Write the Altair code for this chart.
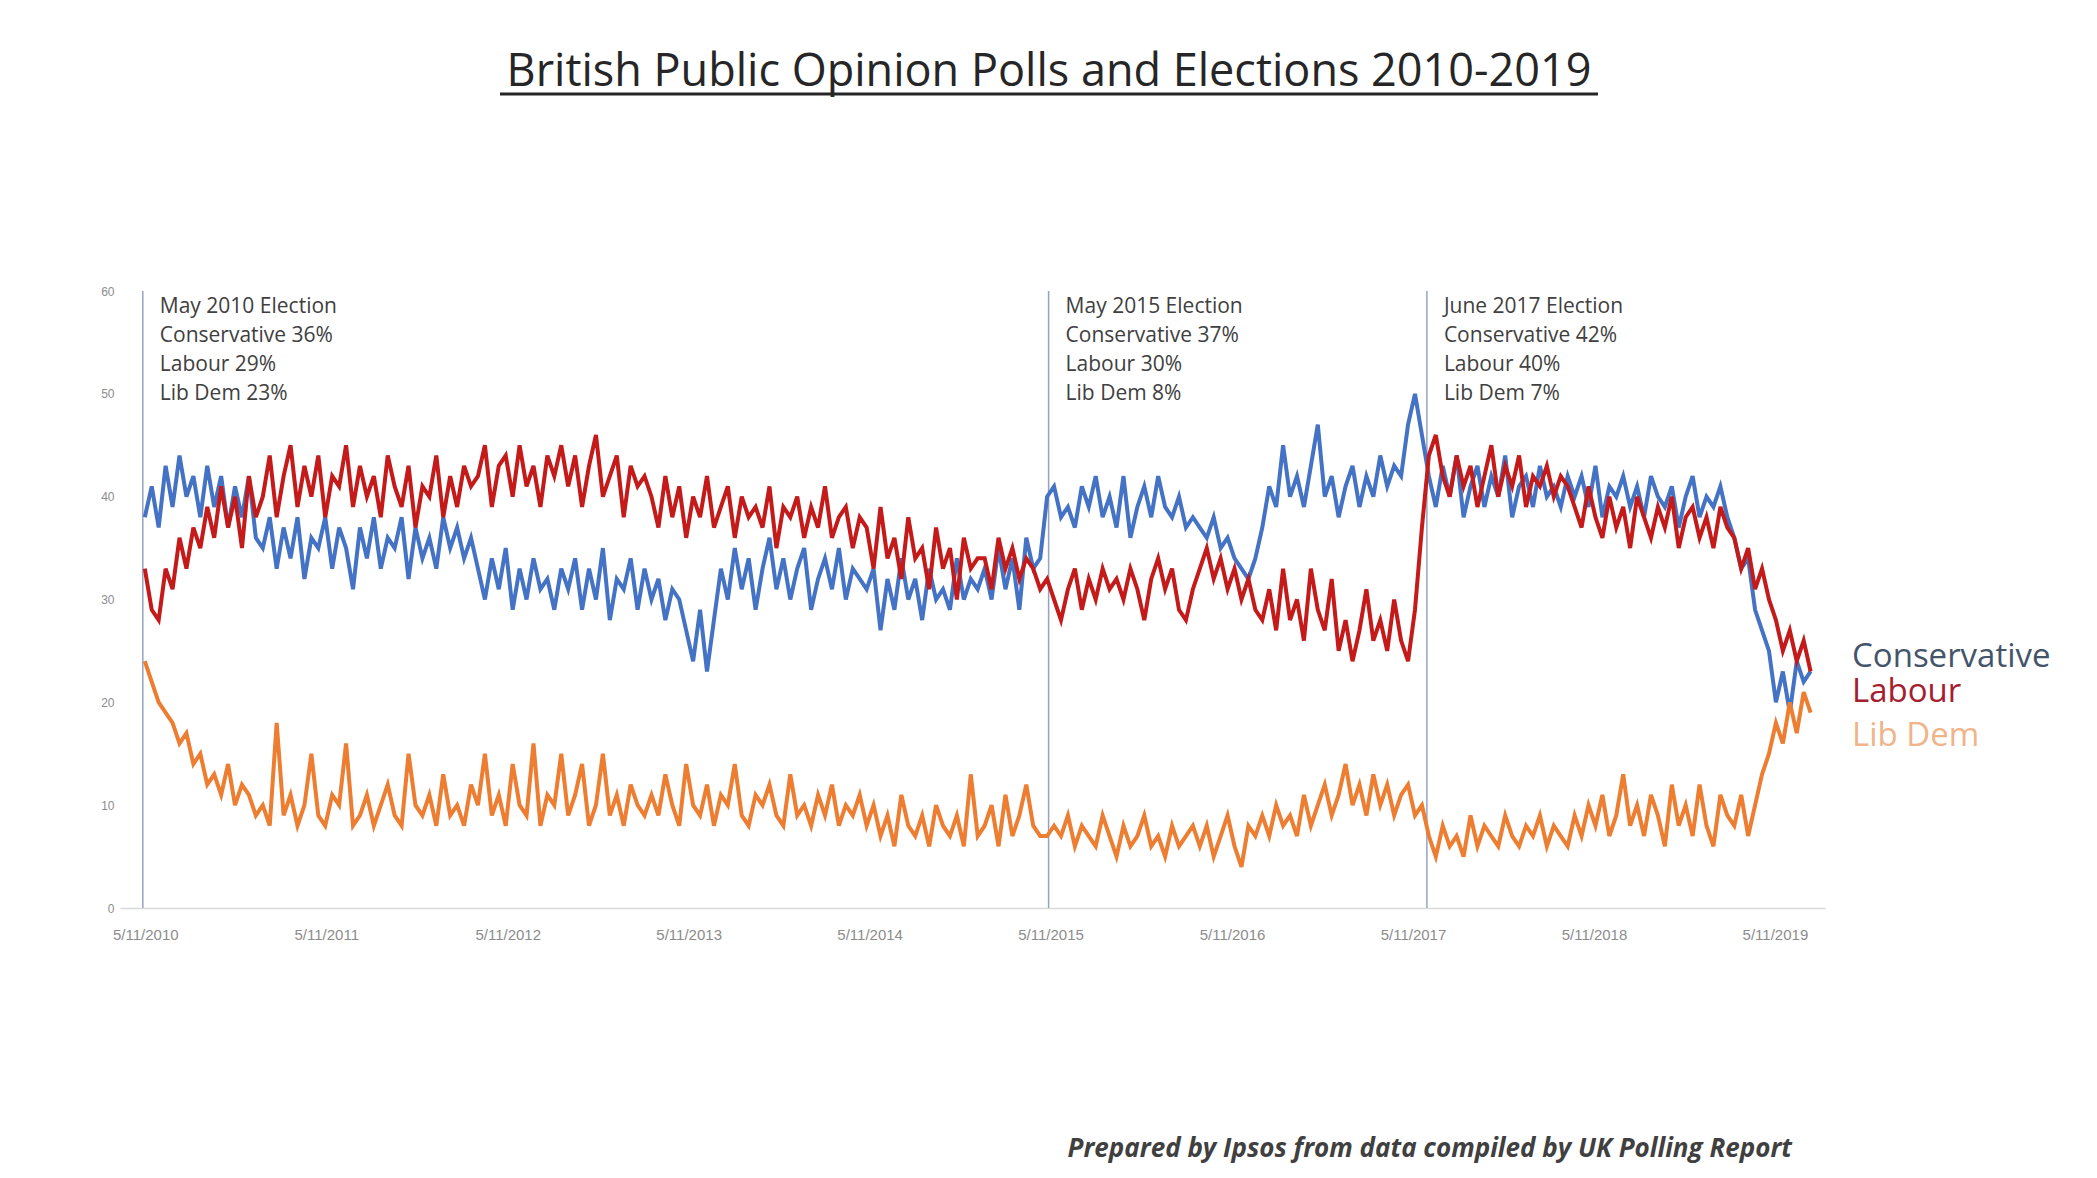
import altair as alt
import pandas as pd

PARTIES = ["Conservative", "Labour", "Lib Dem"]
LINE_COLOURS = ["#4472C4", "#C41A1A", "#ED7D31"]
LABEL_COLOURS = ["#44546A", "#A5202E", "#F0B48A"]

# one reading every 14 days, starting just after the 2010 election
FIRST_POLL = "2010-05-10"
POLL_STEP = "14D"

CONSERVATIVE = [
    38, 41, 37, 43, 39, 44, 40, 42, 38, 43, 39, 42, 37, 41, 38, 42, 36,
    35, 38, 33, 37, 34, 38, 32, 36, 35, 38, 33, 37, 35, 31, 37, 34, 38, 33, 36, 35, 38, 32, 37, 34, 36, 33, 38, 35, 37, 34, 36,
    33, 30, 34, 31, 35, 29, 33, 30, 34, 31, 32, 29, 33,
    31, 34, 29, 33, 30, 35, 28, 32, 31, 34, 29, 33, 30, 32, 28, 31, 30,
    27, 24, 29, 23, 28,
    33, 30, 35, 31, 34, 29, 33, 36, 31, 34, 30, 33, 35, 29, 32, 34, 31, 35, 30, 33, 32,
    31, 33, 27, 32, 29, 34, 30, 32, 28, 33, 30, 31, 29, 34, 30, 32, 31,
    33, 30, 35, 31, 34, 29, 36, 33, 34,
    40, 41, 38, 39, 37, 41, 39, 42, 38, 40, 37, 42, 36, 39, 41, 38, 42, 39, 38, 40, 37, 38,
    37, 36, 38, 35, 36, 34, 33, 32, 34,
    37, 41, 39, 45, 40, 42, 39, 43, 47, 40, 42, 38, 41, 43, 39, 42, 40, 44, 41, 43, 42,
    47, 50, 46,
    42, 39, 43, 40, 44, 38, 41, 43, 39, 42, 40, 44, 38, 41, 42, 39, 43, 40, 41, 39, 42,
    40, 42, 39, 43, 38, 41, 40, 42, 39, 41, 38, 42, 40, 39, 41, 37, 40, 42, 38, 40, 39, 41, 38,
    36, 33, 34, 29, 27, 25,
    20, 23, 19, 24, 22, 23,
]

LABOUR = [
    33, 29, 28, 33, 31, 36, 33, 37,
    35, 39, 36, 41, 37, 40, 35, 42, 38,
    40, 44, 38, 42, 45, 39, 43, 40, 44, 38, 42, 41, 45, 39, 43, 40, 42, 38, 44, 41, 39, 43, 37, 41, 40, 44, 38, 42, 39, 43, 41,
    42, 45, 39, 43, 44, 40, 45, 41, 43, 39, 44, 42, 45,
    41, 44, 39, 43, 46, 40, 42, 44, 38, 43, 41, 42,
    40, 37, 42, 38, 41, 36, 40, 38, 42, 37, 39, 41, 36, 40, 38, 39, 37, 41, 35, 39, 38, 40, 36, 39, 37, 41, 36, 38, 39, 35, 38,
    37, 33, 39, 34, 36, 32, 38, 34, 35, 31, 37, 33, 35, 30, 36, 33, 34,
    34, 31, 36, 33, 35, 32, 34, 33, 31,
    32, 30, 28, 31, 33, 29, 32, 30, 33, 31, 32, 30, 33, 31, 28, 32, 34, 31, 33, 29, 28, 31,
    33, 35, 32, 34, 31, 33, 30, 32, 29,
    28, 31, 27, 33, 28, 30, 26, 33, 29, 27, 32, 25, 28, 24, 27, 31, 26, 28, 25, 30, 26,
    24, 29, 37,
    44, 46, 42, 40, 44, 41, 43, 39, 42, 45, 40, 43, 41, 44, 39, 42, 41, 43, 40, 42, 41,
    39, 37, 41, 38, 36, 40, 37, 39, 35, 40, 38, 36, 39, 37, 40, 35, 38, 39, 36, 38, 35, 39, 37,
    36, 33, 35, 31, 33, 30,
    28, 25, 27, 24, 26, 23,
]

LIB_DEM = [
    24, 22, 20, 19, 18, 16, 17, 14,
    15, 12, 13, 11, 14, 10, 12, 11, 9,
    10, 8, 18, 9, 11, 8, 10, 15, 9, 8, 11, 10, 16, 8, 9, 11, 8, 10, 12, 9, 8, 15, 10, 9, 11, 8, 13, 9, 10, 8, 12,
    10, 15, 9, 11, 8, 14, 10, 9, 16, 8, 11, 10, 15,
    9, 11, 14, 8, 10, 15, 9, 11, 8, 12, 10, 9,
    11, 9, 13, 10, 8, 14, 10, 9, 12, 8, 11, 10, 14, 9, 8, 11, 10, 12, 9, 8, 13, 9, 10, 8, 11, 9, 12, 8, 10, 9, 11,
    8, 10, 7, 9, 6, 11, 8, 7, 9, 6, 10, 8, 7, 9, 6, 13, 7,
    8, 10, 6, 11, 7, 9, 12, 8, 7,
    7, 8, 7, 9, 6, 8, 7, 6, 9, 7, 5, 8, 6, 7, 9, 6, 7, 5, 8, 6, 7, 8,
    6, 8, 5, 7, 9, 6, 4, 8, 7,
    9, 7, 10, 8, 9, 7, 11, 8, 10, 12, 9, 11, 14, 10, 12, 9, 13, 10, 12, 9, 11,
    12, 9, 10,
    7, 5, 8, 6, 7, 5, 9, 6, 8, 7, 6, 9, 7, 6, 8, 7, 9, 6, 8, 7, 6,
    9, 7, 10, 8, 11, 7, 9, 13, 8, 10, 7, 11, 9, 6, 12, 8, 10, 7, 12, 8, 6, 11, 9,
    8, 11, 7, 10, 13, 15,
    18, 16, 20, 17, 21, 19,
]

ELECTION_DATES = ["2010-05-06", "2015-05-07", "2017-06-08"]
ELECTION_NOTES = [
    ["May 2010 Election", "Conservative 36%", "Labour 29%", "Lib Dem 23%"],
    ["May 2015 Election", "Conservative 37%", "Labour 30%", "Lib Dem 8%"],
    ["June 2017 Election", "Conservative 42%", "Labour 40%", "Lib Dem 7%"],
]

# right-hand party labels, placed at these heights on the % axis
LABEL_LEVELS = [23.4, 20.0, 15.8]

TICK_YEARS = list(range(2010, 2020))
Y_TICKS = [0, 10, 20, 30, 40, 50, 60]

TITLE = "British Public Opinion Polls and Elections 2010-2019"
FOOTER = "Prepared by Ipsos from data compiled by UK Polling Report"

assert len(CONSERVATIVE) == len(LABOUR) == len(LIB_DEM)

dates = pd.date_range(FIRST_POLL, periods=len(CONSERVATIVE), freq=POLL_STEP)
polls = pd.concat(
    [
        pd.DataFrame({"date": dates, "party": p, "share": v})
        for p, v in zip(PARTIES, [CONSERVATIVE, LABOUR, LIB_DEM])
    ]
)
elections = pd.DataFrame(
    {"date": pd.to_datetime(ELECTION_DATES), "note": ["\n".join(n) for n in ELECTION_NOTES]}
)
labels = pd.DataFrame({"party": PARTIES, "level": LABEL_LEVELS})
blank = pd.DataFrame({"a": [0]})

x_enc = alt.X(
    "date:T",
    title=None,
    scale=alt.Scale(
        domain=[
            alt.DateTime(year=2010, month=3, date=21),
            alt.DateTime(year=2019, month=8, date=20),
        ]
    ),
    axis=alt.Axis(
        values=[alt.DateTime(year=y, month=5, date=11) for y in TICK_YEARS],
        format="%-m/%-d/%Y",
        labelFont="Liberation Sans",
        labelFontSize=15,
        labelColor="#8c8c8c",
        labelPadding=19,
        labelFlush=False,
        labelOverlap=False,
        domainColor="#d9d9d9",
        domainWidth=1.5,
        ticks=False,
        grid=False,
    ),
)
y_enc = alt.Y(
    "share:Q",
    title=None,
    scale=alt.Scale(domain=[0, 60], nice=False),
    axis=alt.Axis(
        values=Y_TICKS,
        labelFont="Liberation Sans",
        labelFontSize=12,
        labelColor="#8c8c8c",
        labelPadding=6,
        domain=False,
        ticks=False,
        grid=False,
    ),
)


def party_line(party, colour):
    return (
        alt.Chart(polls)
        .transform_filter(alt.datum.party == party)
        .mark_line(color=colour, strokeWidth=4)
        .encode(x=x_enc, y=y_enc)
    )


election_rules = (
    alt.Chart(elections)
    .mark_rule(color="#95A3C3", strokeWidth=1.5)
    .encode(x="date:T")
)

election_notes = (
    alt.Chart(elections)
    .mark_text(
        align="left",
        baseline="top",
        dx=17,
        lineBreak="\n",
        lineHeight=29,
        font="Open Sans",
        fontSize=21,
        color="#404040",
    )
    .encode(x="date:T", y=alt.value(5), text="note:N")
)

party_labels = (
    alt.Chart(labels)
    .mark_text(align="left", baseline="alphabetic", font="Open Sans", fontSize=33)
    .encode(
        x=alt.value(1732),
        y=alt.Y("level:Q"),
        text="party:N",
        color=alt.Color(
            "party:N",
            scale=alt.Scale(domain=PARTIES, range=LABEL_COLOURS),
            legend=None,
        ),
    )
)

title = (
    alt.Chart(blank)
    .mark_text(
        align="center",
        baseline="alphabetic",
        font="Open Sans",
        fontSize=45,
        color="#262626",
    )
    .encode(x=alt.value(929), y=alt.value(-205), text=alt.value(TITLE))
)

underline = (
    alt.Chart(blank)
    .mark_rule(color="#262626", strokeWidth=3)
    .encode(x=alt.value(380), x2=alt.value(1478), y=alt.value(-197))
)

footer = (
    alt.Chart(blank)
    .mark_text(
        align="right",
        baseline="middle",
        font="Open Sans",
        fontSize=26,
        fontStyle="italic",
        fontWeight="bold",
        color="#404040",
    )
    .encode(x=alt.value(1672), y=alt.value(858), text=alt.value(FOOTER))
)

chart = (
    alt.layer(
        election_rules,
        party_line("Conservative", LINE_COLOURS[0]),
        party_line("Labour", LINE_COLOURS[1]),
        party_line("Lib Dem", LINE_COLOURS[2]),
        election_notes,
        party_labels,
        title,
        underline,
        footer,
    )
    .properties(
        width=1705,
        height=617,
        autosize=alt.AutoSizeParams(type="none"),
        padding={"left": 112, "top": 283, "right": 260, "bottom": 261},
    )
    .configure_view(stroke=None)
)

chart.save("out.html", embed_options={"renderer": "svg", "actions": False})
